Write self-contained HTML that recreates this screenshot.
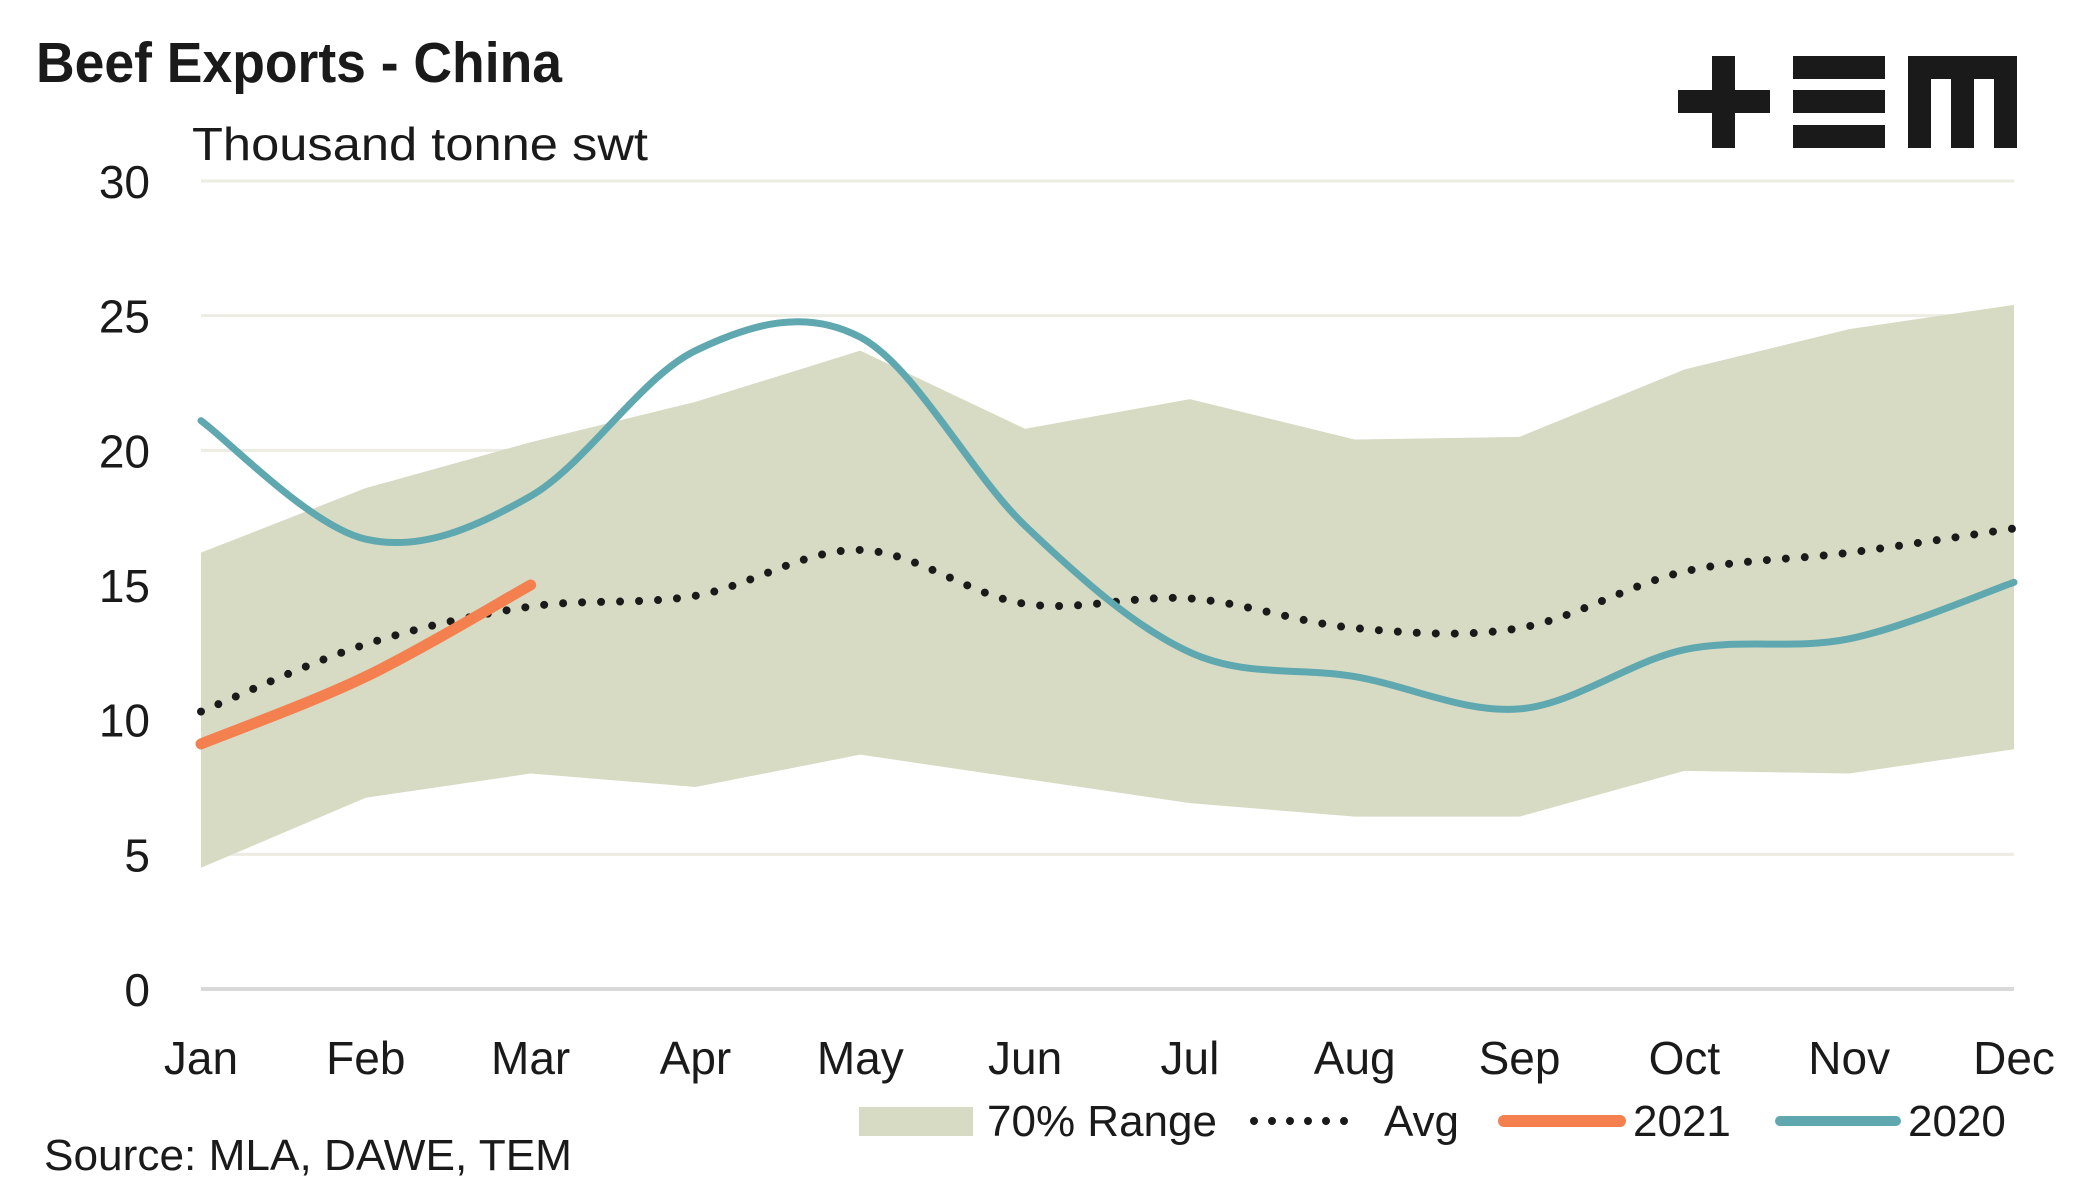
<!DOCTYPE html>
<html><head><meta charset="utf-8"><style>
body{margin:0;background:#fff}
svg text{font-family:"Liberation Sans",sans-serif;fill:#1a1a1a}
</style></head><body>
<svg id="chart" width="2090" height="1196" viewBox="0 0 2090 1196">
<text x="36" y="82" font-size="57" font-weight="bold" textLength="526" lengthAdjust="spacingAndGlyphs">Beef Exports - China</text>
<text x="192" y="160" font-size="46" textLength="456" lengthAdjust="spacingAndGlyphs">Thousand tonne swt</text>
<g fill="#1a1a1a">
<rect x="1678" y="90" width="92" height="23"/><rect x="1712" y="56" width="23" height="92"/>
<rect x="1793" y="56" width="92" height="23"/><rect x="1793" y="90" width="92" height="23"/><rect x="1793" y="125" width="92" height="23"/>
<rect x="1908" y="56" width="109" height="23"/><rect x="1908" y="56" width="23" height="92"/><rect x="1951" y="56" width="23" height="92"/><rect x="1994" y="56" width="23" height="92"/>
</g>
<g id="grid"></g><g id="plot"></g><g id="axes"></g>
<g>
<rect x="859" y="1107" width="114" height="29" fill="#d8dbc4"/>
<text x="987" y="1136" font-size="44">70% Range</text>
<line x1="1254" y1="1121" x2="1362" y2="1121" stroke="#1a1a1a" stroke-width="8" stroke-dasharray="0 18" stroke-linecap="round"/>
<text x="1384" y="1136" font-size="44">Avg</text>
<line x1="1504" y1="1121" x2="1620" y2="1121" stroke="#f47f4f" stroke-width="12" stroke-linecap="round"/>
<text x="1633" y="1136" font-size="44">2021</text>
<line x1="1780" y1="1121" x2="1896" y2="1121" stroke="#5fa8b0" stroke-width="10" stroke-linecap="round"/>
<text x="1908" y="1136" font-size="44">2020</text>
</g>
<text x="44" y="1170" font-size="44" textLength="528" lengthAdjust="spacingAndGlyphs">Source: MLA, DAWE, TEM</text>
</svg>
<script>
const months=["Jan","Feb","Mar","Apr","May","Jun","Jul","Aug","Sep","Oct","Nov","Dec"];
const yTicks=[0,5,10,15,20,25,30];
const rangeUpper=[16.2,18.6,20.3,21.8,23.7,20.8,21.9,20.4,20.5,23.0,24.5,25.4];
const rangeLower=[4.5,7.1,8.0,7.5,8.7,7.8,6.9,6.4,6.4,8.1,8.0,8.9];
const avg=[10.3,12.8,14.2,14.6,16.3,14.3,14.5,13.4,13.4,15.5,16.2,17.1];
const y2021=[9.1,11.6,15.0];
const y2020=[21.1,16.7,18.3,23.7,24.2,17.2,12.5,11.6,10.4,12.6,13.0,15.1];
const NS="http://www.w3.org/2000/svg";
const X0=201,X1=2014,Y0=989,Y30=181;
const xs=i=>X0+i*(X1-X0)/(months.length-1);
const ys=v=>Y0+(Y30-Y0)*v/30;
function mk(tag,attrs,parent){const e=document.createElementNS(NS,tag);for(const k in attrs)e.setAttribute(k,attrs[k]);parent.appendChild(e);return e;}
const grid=document.getElementById('grid'),plot=document.getElementById('plot'),axes=document.getElementById('axes');
yTicks.forEach(t=>{
 const l=mk('line',{x1:X0,x2:X1,y1:ys(t),y2:ys(t),stroke:t===0?'#d9d9d9':'#ecece2','stroke-width':t===0?4:3},grid);
 
 
 const tx=mk('text',{x:150,y:ys(t)+17,'font-size':46,'text-anchor':'end'},axes);
 tx.textContent=t;
 
 
});
months.forEach((m,i)=>{
 const tx=mk('text',{x:xs(i),y:1074,'font-size':46,'text-anchor':'middle'},axes);
 tx.textContent=m;
 
 
});
let pts=rangeUpper.map((v,i)=>xs(i)+','+ys(v)).concat(rangeLower.map((v,i)=>xs(i)+','+ys(v)).reverse());
const poly=mk('polygon',{points:pts.join(' '),fill:'#d8dbc4'},plot);


function smooth(vals){
 const p=vals.map((v,i)=>[xs(i),ys(v)]);let d='M'+p[0][0]+','+p[0][1];
 for(let i=0;i<p.length-1;i++){const a=p[i-1]||p[i],b=p[i],c=p[i+1],e=p[i+2]||c;
  d+=' C'+(b[0]+(c[0]-a[0])/6)+','+(b[1]+(c[1]-a[1])/6)+' '+(c[0]-(e[0]-b[0])/6)+','+(c[1]-(e[1]-b[1])/6)+' '+c[0]+','+c[1];}
 return d;}
const pa=mk('path',{d:smooth(avg),fill:'none',stroke:'#1a1a1a','stroke-width':8,'stroke-dasharray':'0 19','stroke-linecap':'round'},plot);


const p20=mk('path',{d:smooth(y2020),fill:'none',stroke:'#5fa8b0','stroke-width':7,'stroke-linecap':'round'},plot);


const p21=mk('path',{d:smooth(y2021),fill:'none',stroke:'#f47f4f','stroke-width':11,'stroke-linecap':'round'},plot);


</script>
</body></html>
